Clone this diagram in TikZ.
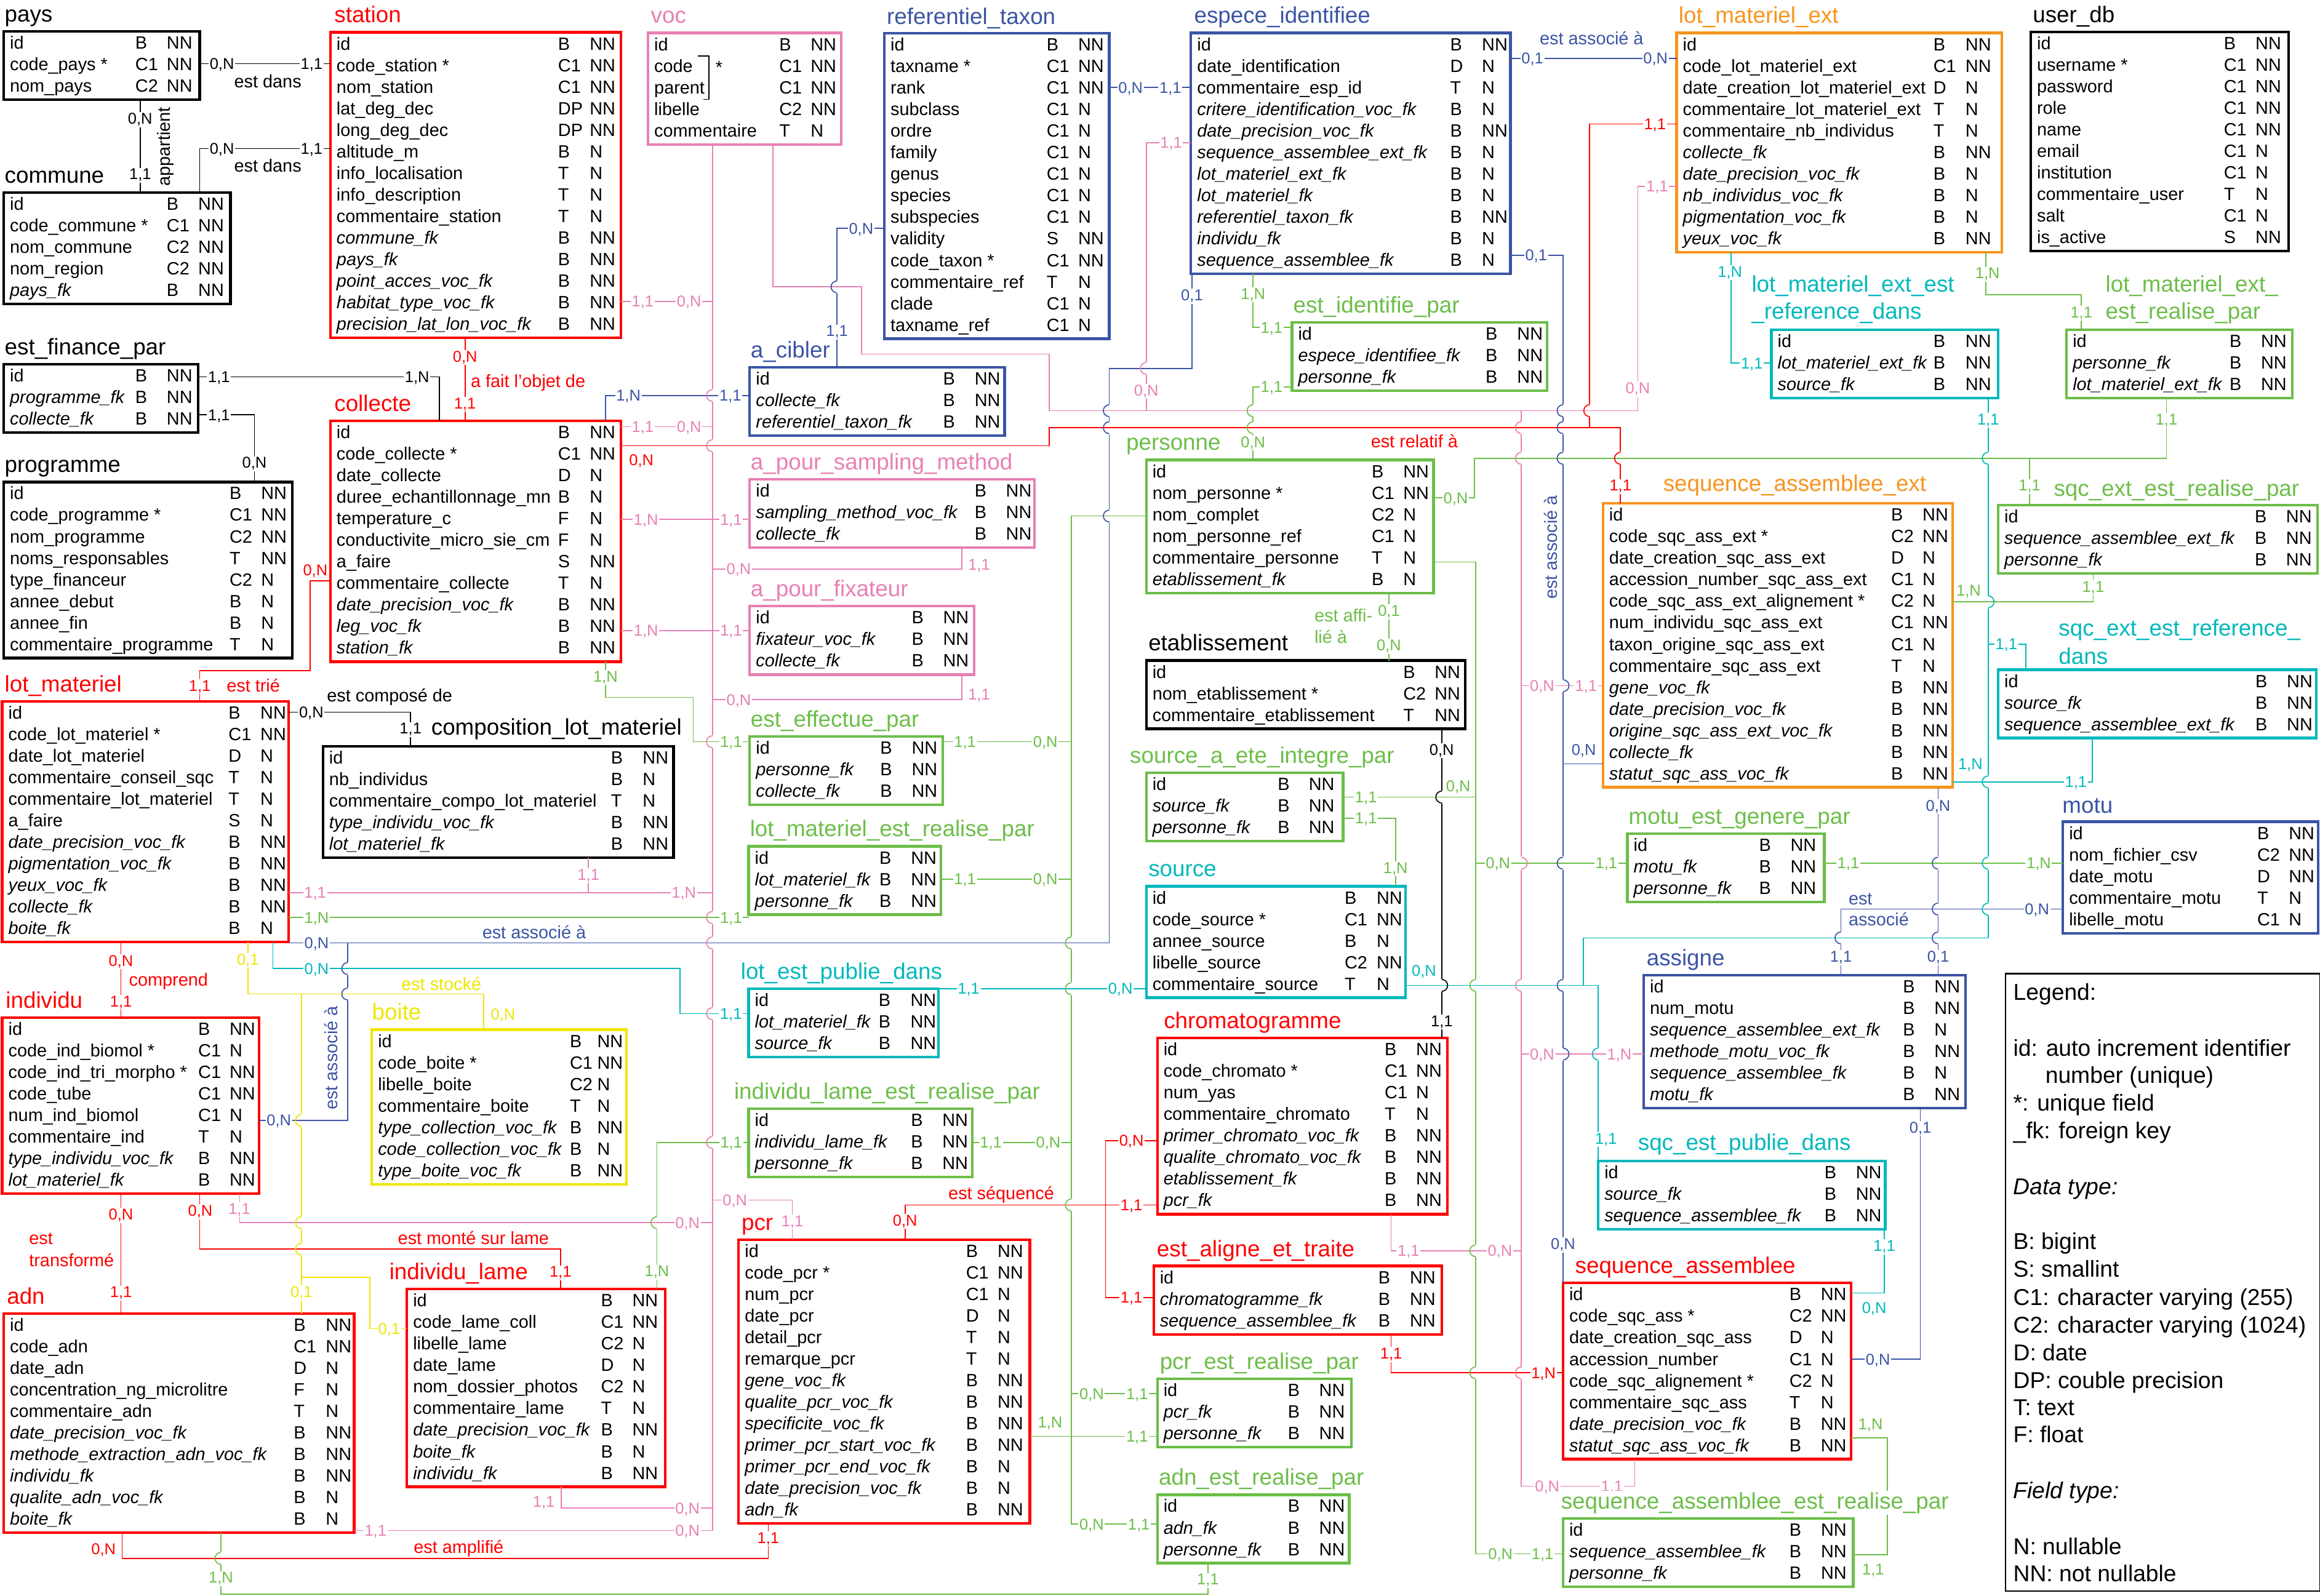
\documentclass[tikz,border=0pt]{standalone}
\usepackage{fontspec}
\setmainfont{Liberation Sans}

\definecolor{cRed}{RGB}{255,0,0}
\definecolor{cPink}{RGB}{232,128,180}
\definecolor{cBlue}{RGB}{59,84,164}
\definecolor{cGreen}{RGB}{108,190,72}
\definecolor{cOrange}{RGB}{247,148,30}
\definecolor{cCyan}{RGB}{0,184,188}
\definecolor{cYellow}{RGB}{238,230,0}

\newcommand\fieldfont{\fontsize{12}{14}\selectfont}
\newcommand\titlefont{\fontsize{15.3}{18}\selectfont}
\newcommand\cardfont{\fontsize{10.6}{12}\selectfont}
\newcommand\relfont{\fontsize{12}{14}\selectfont}
\newcommand\legfont{\fontsize{15.5}{18.8}\selectfont}
\newcommand\ik[1]{\textit{#1}}

\tikzset{
  conn/.style={line width=0.7pt},
  fld/.style={anchor=base west, inner sep=0pt, font=\fieldfont},
  ttl/.style={anchor=base west, inner sep=0pt, font=\titlefont},
  crd/.style={anchor=base, fill=white, inner sep=0.7pt, font=\cardfont},
  crdfree/.style={anchor=base, inner sep=0pt, font=\cardfont},
  rel/.style={anchor=base, inner sep=0pt, font=\relfont},
  relw/.style={anchor=base west, inner sep=0pt, font=\relfont},
  lg/.style={anchor=base west, inner sep=0pt, font=\legfont},
}

% table: #1 name, #2 colour, #3 left, #4 top, #5 right, #6 number of rows,
%        #7 type column offset, #8 null column offset, #9 rows
\newcommand\tbl[9]{%
  \pgfmathsetmacro\tblh{14.57*#6+2.5}%
  \pgfmathsetmacro\tblw{#5-#3}%
  \node[draw=#2, line width=1.8pt, outer sep=0pt, inner sep=0pt, anchor=north west,
        minimum width=\tblw pt, minimum height=\tblh pt] (#1) at (#3,#4) {};
  \foreach \fa/\fb/\fc [count=\ri] in {#9} {%
    \pgfmathsetmacro\ry{#4+11.9+14.57*(\ri-1)}%
    \node[fld] at (#3+4,\ry) {\fa};
    \node[fld] at (#5-#7,\ry) {\fb};
    \node[fld] at (#5-#8,\ry) {\fc};
  }}
% cardinality on a line (white background) and beside a line
\newcommand\cdn[4]{\node[crd,text=#1] at (#2,{#3+3.7}) {#4};}
\newcommand\cdf[4]{\node[crdfree,text=#1] at (#2,{#3+3.7}) {#4};}
% line hop of a vertical connector over a horizontal one
\newcommand\hopL[4]{%
  \fill[white] ({#1-1.1},{#2-4.4}) rectangle ({#1+1.1},{#2+4.4});
  \draw[conn,#4] ({#1-1.4},#2) -- ({#1+1.4},#2);
  \draw[conn,#3] (#1,{#2-4}) arc[start angle=-90,end angle=-270,radius=4];}
\newcommand\hopR[4]{%
  \fill[white] ({#1-1.1},{#2-4.4}) rectangle ({#1+1.1},{#2+4.4});
  \draw[conn,#4] ({#1-1.4},#2) -- ({#1+1.4},#2);
  \draw[conn,#3] (#1,{#2-4}) arc[start angle=-90,end angle=90,radius=4];}

\begin{document}
\begin{tikzpicture}[x=1pt,y=-1pt]
\useasboundingbox (0,0) rectangle (1568,1078.5);

%================ tables ================
\tbl{pays}{black}{2.5}{21.1}{135}{3}{43.7}{22.5}{id/B/NN, code\_pays */C1/NN, nom\_pays/C2/NN}
\tbl{commune}{black}{2.5}{130.1}{155.8}{5}{43.3}{22}{id/B/NN, code\_commune */C1/NN, nom\_commune/C2/NN, nom\_region/C2/NN, \ik{pays\_fk}/B/NN}
\tbl{finance}{black}{2.5}{246.2}{133.8}{3}{42.5}{21.3}{id/B/NN, \ik{programme\_fk}/B/NN, \ik{collecte\_fk}/B/NN}
\tbl{programme}{black}{2.5}{325.8}{197.5}{8}{42.5}{21.2}{id/B/NN, code\_programme */C1/NN, nom\_programme/C2/NN, noms\_responsables/T/NN, type\_financeur/C2/N, annee\_debut/B/N, annee\_fin/B/N, commentaire\_programme/T/N}
\tbl{lotmat}{cRed}{1.5}{474.1}{195}{11}{40.7}{19.2}{id/B/NN, code\_lot\_materiel */C1/NN, date\_lot\_materiel/D/N, commentaire\_conseil\_sqc/T/N, commentaire\_lot\_materiel/T/N, a\_faire/S/N, \ik{date\_precision\_voc\_fk}/B/NN, \ik{pigmentation\_voc\_fk}/B/NN, \ik{yeux\_voc\_fk}/B/NN, \ik{collecte\_fk}/B/NN, \ik{boite\_fk}/B/N}
\tbl{individu}{cRed}{1.5}{687.9}{175}{8}{41.2}{20}{id/B/NN, code\_ind\_biomol */C1/N, code\_ind\_tri\_morpho */C1/NN, code\_tube/C1/NN, num\_ind\_biomol/C1/N, commentaire\_ind/T/N, \ik{type\_individu\_voc\_fk}/B/NN, \ik{lot\_materiel\_fk}/B/NN}
\tbl{adn}{cRed}{2.5}{887.9}{239.3}{10}{41}{19.3}{id/B/NN, code\_adn/C1/NN, date\_adn/D/N, concentration\_ng\_microlitre/F/N, commentaire\_adn/T/N, \ik{date\_precision\_voc\_fk}/B/NN, \ik{methode\_extraction\_adn\_voc\_fk}/B/NN, \ik{individu\_fk}/B/NN, \ik{qualite\_adn\_voc\_fk}/B/N, \ik{boite\_fk}/B/N}
\tbl{station}{cRed}{223.3}{21.8}{419.7}{14}{42.7}{21.3}{id/B/NN, code\_station */C1/NN, nom\_station/C1/NN, lat\_deg\_dec/DP/NN, long\_deg\_dec/DP/NN, altitude\_m/B/N, info\_localisation/T/N, info\_description/T/N, commentaire\_station/T/N, \ik{commune\_fk}/B/NN, \ik{pays\_fk}/B/NN, \ik{point\_acces\_voc\_fk}/B/NN, \ik{habitat\_type\_voc\_fk}/B/NN, \ik{precision\_lat\_lon\_voc\_fk}/B/NN}
\tbl{collecte}{cRed}{223.3}{284.5}{419.7}{11}{42.7}{21.3}{id/B/NN, code\_collecte */C1/NN, date\_collecte/D/N, duree\_echantillonnage\_mn/B/N, temperature\_c/F/N, conductivite\_micro\_sie\_cm/F/N, a\_faire/S/NN, commentaire\_collecte/T/N, \ik{date\_precision\_voc\_fk}/B/NN, \ik{leg\_voc\_fk}/B/NN, \ik{station\_fk}/B/NN}
\tbl{compo}{black}{218.3}{504.4}{455.2}{5}{42.5}{21}{id/B/NN, nb\_individus/B/N, commentaire\_compo\_lot\_materiel/T/N, \ik{type\_individu\_voc\_fk}/B/NN, \ik{lot\_materiel\_fk}/B/NN}
\tbl{boite}{cYellow}{251.3}{696}{423.5}{7}{38.5}{20}{id/B/NN, code\_boite */C1/NN, libelle\_boite/C2/N, commentaire\_boite/T/N, \ik{type\_collection\_voc\_fk}/B/NN, \ik{code\_collection\_voc\_fk}/B/N, \ik{type\_boite\_voc\_fk}/B/NN}
\tbl{lame}{cRed}{275}{871.4}{449.7}{9}{43.7}{22.5}{id/B/NN, code\_lame\_coll/C1/NN, libelle\_lame/C2/N, date\_lame/D/N, nom\_dossier\_photos/C2/N, commentaire\_lame/T/N, \ik{date\_precision\_voc\_fk}/B/NN, \ik{boite\_fk}/B/N, \ik{individu\_fk}/B/NN}
\tbl{voc}{cPink}{438}{22.3}{568.5}{5}{42}{20.8}{id/B/NN, code/C1/NN, parent/C1/NN, libelle/C2/NN, commentaire/T/N}
\tbl{taxon}{cBlue}{597.7}{22.5}{749.7}{14}{42.5}{21.2}{id/B/NN, taxname */C1/NN, rank/C1/NN, subclass/C1/N, ordre/C1/N, family/C1/N, genus/C1/N, species/C1/N, subspecies/C1/N, validity/S/NN, code\_taxon */C1/NN, commentaire\_ref/T/N, clade/C1/N, taxname\_ref/C1/N}
\tbl{cibler}{cBlue}{506.7}{248.3}{679}{3}{41.8}{20.5}{id/B/NN, \ik{collecte\_fk}/B/NN, \ik{referentiel\_taxon\_fk}/B/NN}
\tbl{sampling}{cPink}{506.7}{324}{699.2}{3}{40.7}{19.5}{id/B/NN, \ik{sampling\_method\_voc\_fk}/B/NN, \ik{collecte\_fk}/B/NN}
\tbl{fixateur}{cPink}{506.7}{409.8}{658.5}{3}{42.5}{21.3}{id/B/NN, \ik{fixateur\_voc\_fk}/B/NN, \ik{collecte\_fk}/B/NN}
\tbl{effectue}{cGreen}{506.7}{497.9}{637.2}{3}{42.5}{21.2}{id/B/NN, \ik{personne\_fk}/B/NN, \ik{collecte\_fk}/B/NN}
\tbl{lotrealise}{cGreen}{506}{572.1}{636}{3}{41.8}{20.5}{id/B/NN, \ik{lot\_materiel\_fk}/B/NN, \ik{personne\_fk}/B/NN}
\tbl{lotpublie}{cCyan}{506}{668.4}{634.2}{3}{40.5}{19}{id/B/NN, \ik{lot\_materiel\_fk}/B/NN, \ik{source\_fk}/B/NN}
\tbl{lamerealise}{cGreen}{506}{749.4}{657.2}{3}{41.7}{20.5}{id/B/NN, \ik{individu\_lame\_fk}/B/NN, \ik{personne\_fk}/B/NN}
\tbl{pcr}{cRed}{499.2}{838}{696}{13}{43.3}{22}{id/B/NN, code\_pcr */C1/NN, num\_pcr/C1/N, date\_pcr/D/N, detail\_pcr/T/N, remarque\_pcr/T/N, \ik{gene\_voc\_fk}/B/NN, \ik{qualite\_pcr\_voc\_fk}/B/NN, \ik{specificite\_voc\_fk}/B/NN, \ik{primer\_pcr\_start\_voc\_fk}/B/NN, \ik{primer\_pcr\_end\_voc\_fk}/B/N, \ik{date\_precision\_voc\_fk}/B/N, \ik{adn\_fk}/B/NN}
\tbl{espece}{cBlue}{804.9}{22.3}{1020.9}{11}{41}{19.5}{id/B/NN, date\_identification/D/N, commentaire\_esp\_id/T/N, \ik{critere\_identification\_voc\_fk}/B/N, \ik{date\_precision\_voc\_fk}/B/NN, \ik{sequence\_assemblee\_ext\_fk}/B/N, \ik{lot\_materiel\_ext\_fk}/B/N, \ik{lot\_materiel\_fk}/B/N, \ik{referentiel\_taxon\_fk}/B/NN, \ik{individu\_fk}/B/N, \ik{sequence\_assemblee\_fk}/B/N}
\tbl{identifie}{cGreen}{873.2}{218}{1045.7}{3}{41.8}{20.5}{id/B/NN, \ik{espece\_identifiee\_fk}/B/NN, \ik{personne\_fk}/B/NN}
\tbl{personne}{cGreen}{774.7}{310.9}{968.9}{6}{42}{20.7}{id/B/NN, nom\_personne */C1/NN, nom\_complet/C2/N, nom\_personne\_ref/C1/N, commentaire\_personne/T/N, \ik{etablissement\_fk}/B/N}
\tbl{etab}{black}{774.7}{446.5}{990.2}{3}{42}{20.8}{id/B/NN, nom\_etablissement */C2/NN, commentaire\_etablissement/T/NN}
\tbl{integre}{cGreen}{774.7}{522.3}{907.7}{3}{44.3}{23.3}{id/B/NN, \ik{source\_fk}/B/NN, \ik{personne\_fk}/B/NN}
\tbl{source}{cCyan}{774.7}{599.1}{949.9}{5}{41.3}{19.7}{id/B/NN, code\_source */C1/NN, annee\_source/B/N, libelle\_source/C2/NN, commentaire\_source/T/N}
\tbl{chromato}{cRed}{782.2}{701.7}{978.2}{8}{42.5}{21.3}{id/B/NN, code\_chromato */C1/NN, num\_yas/C1/N, commentaire\_chromato/T/N, \ik{primer\_chromato\_voc\_fk}/B/NN, \ik{qualite\_chromato\_voc\_fk}/B/NN, \ik{etablissement\_fk}/B/NN, \ik{pcr\_fk}/B/NN}
\tbl{aligne}{cRed}{779.7}{855.8}{974.4}{3}{43}{21.7}{id/B/NN, \ik{chromatogramme\_fk}/B/NN, \ik{sequence\_assemblee\_fk}/B/NN}
\tbl{pcrrealise}{cGreen}{782.2}{932.1}{913.2}{3}{43}{21.8}{id/B/NN, \ik{pcr\_fk}/B/NN, \ik{personne\_fk}/B/NN}
\tbl{adnrealise}{cGreen}{782.2}{1010.4}{911.9}{3}{41.7}{20.5}{id/B/NN, \ik{adn\_fk}/B/NN, \ik{personne\_fk}/B/NN}
\tbl{lotext}{cOrange}{1133.2}{22.3}{1352.9}{10}{46.4}{24.7}{id/B/NN, code\_lot\_materiel\_ext/C1/NN, date\_creation\_lot\_materiel\_ext/D/N, commentaire\_lot\_materiel\_ext/T/N, commentaire\_nb\_individus/T/N, \ik{collecte\_fk}/B/NN, \ik{date\_precision\_voc\_fk}/B/N, \ik{nb\_individus\_voc\_fk}/B/N, \ik{pigmentation\_voc\_fk}/B/N, \ik{yeux\_voc\_fk}/B/NN}
\tbl{userdb}{black}{1372.5}{21.6}{1546.7}{10}{43.9}{22.5}{id/B/NN, username */C1/NN, password/C1/NN, role/C1/NN, name/C1/NN, email/C1/N, institution/C1/N, commentaire\_user/T/N, salt/C1/N, is\_active/S/NN}
\tbl{lotextref}{cCyan}{1197.2}{223}{1350.5}{3}{44}{22.3}{id/B/NN, \ik{lot\_materiel\_ext\_fk}/B/NN, \ik{source\_fk}/B/NN}
\tbl{lotextreal}{cGreen}{1396.7}{223}{1549.2}{3}{42.5}{21.3}{id/B/NN, \ik{personne\_fk}/B/NN, \ik{lot\_materiel\_ext\_fk}/B/NN}
\tbl{sqcext}{cOrange}{1083.4}{340.3}{1319.7}{13}{41.8}{20.5}{id/B/NN, code\_sqc\_ass\_ext */C2/NN, date\_creation\_sqc\_ass\_ext/D/N, accession\_number\_sqc\_ass\_ext/C1/N, code\_sqc\_ass\_ext\_alignement */C2/N, num\_individu\_sqc\_ass\_ext/C1/NN, taxon\_origine\_sqc\_ass\_ext/C1/N, commentaire\_sqc\_ass\_ext/T/N, \ik{gene\_voc\_fk}/B/NN, \ik{date\_precision\_voc\_fk}/B/NN, \ik{origine\_sqc\_ass\_ext\_voc\_fk}/B/NN, \ik{collecte\_fk}/B/NN, \ik{statut\_sqc\_ass\_voc\_fk}/B/NN}
\tbl{sqcextreal}{cGreen}{1350.5}{341.4}{1566.2}{3}{42.5}{21.3}{id/B/NN, \ik{sequence\_assemblee\_ext\_fk}/B/NN, \ik{personne\_fk}/B/NN}
\tbl{sqcextref}{cCyan}{1350.5}{452.7}{1565.5}{3}{41.3}{20.1}{id/B/NN, \ik{source\_fk}/B/NN, \ik{sequence\_assemblee\_ext\_fk}/B/NN}
\tbl{motugen}{cGreen}{1099.9}{563.6}{1233}{3}{44.3}{23.1}{id/B/NN, \ik{motu\_fk}/B/NN, \ik{personne\_fk}/B/NN}
\tbl{motu}{cBlue}{1394.2}{555.5}{1566.7}{5}{41.3}{20}{id/B/NN, nom\_fichier\_csv/C2/NN, date\_motu/D/NN, commentaire\_motu/T/N, libelle\_motu/C1/N}
\tbl{assigne}{cBlue}{1110.9}{659.2}{1328.5}{6}{42.6}{21.3}{id/B/NN, num\_motu/B/NN, \ik{sequence\_assemblee\_ext\_fk}/B/N, \ik{methode\_motu\_voc\_fk}/B/NN, \ik{sequence\_assemblee\_fk}/B/N, \ik{motu\_fk}/B/NN}
\tbl{sqcpub}{cCyan}{1080.2}{784.8}{1274.2}{3}{41.3}{20.1}{id/B/NN, \ik{source\_fk}/B/NN, \ik{sequence\_assemblee\_fk}/B/NN}
\tbl{sqc}{cRed}{1056.4}{867.3}{1251}{8}{41.8}{20.6}{id/B/NN, code\_sqc\_ass */C2/NN, date\_creation\_sqc\_ass/D/N, accession\_number/C1/N, code\_sqc\_alignement */C2/N, commentaire\_sqc\_ass/T/N, \ik{date\_precision\_voc\_fk}/B/NN, \ik{statut\_sqc\_ass\_voc\_fk}/B/NN}
\tbl{sqcreal}{cGreen}{1056.4}{1026.4}{1252.5}{3}{43.3}{22}{id/B/NN, \ik{sequence\_assemblee\_fk}/B/NN, \ik{personne\_fk}/B/NN}

% composite unique key bracket in voc
\draw[line width=0.7pt] (471.7,37.9) -- (479,37.9) -- (479,67.2) -- (475.5,67.2);
\node[fld] (voc-star) at (483.5,49.5) {*};

%================ titles ================
\node[ttl] (pays-t) at (3,14.6) {pays};
\node[ttl] (commune-t) at (3,123.6) {commune};
\node[ttl] (finance-t) at (3,239.7) {est\_finance\_par};
\node[ttl] (programme-t) at (3,319.3) {programme};
\node[ttl,text=cRed] (lotmat-t) at (3,467.6) {lot\_materiel};
\node[ttl,text=cRed] (individu-t) at (3.75,681.4) {individu};
\node[ttl,text=cRed] (adn-t) at (4.5,881.4) {adn};
\node[ttl,text=cRed] (station-t) at (225.8,15.3) {station};
\node[ttl,text=cRed] (collecte-t) at (225.8,278) {collecte};
\node[ttl] (compo-t) at (291.3,497) {composition\_lot\_materiel};
\node[ttl,text=cYellow] (boite-t) at (251.3,689.5) {boite};
\node[ttl,text=cRed] (lame-t) at (263,864.9) {individu\_lame};
\node[ttl,text=cPink] (voc-t) at (439.7,15.8) {voc};
\node[ttl,text=cBlue] (taxon-t) at (599.2,16.3) {referentiel\_taxon};
\node[ttl,text=cBlue] (cibler-t) at (507.2,241.8) {a\_cibler};
\node[ttl,text=cPink] (sampling-t) at (507.2,317.5) {a\_pour\_sampling\_method};
\node[ttl,text=cPink] (fixateur-t) at (507.2,403.3) {a\_pour\_fixateur};
\node[ttl,text=cGreen] (effectue-t) at (507.2,491.4) {est\_effectue\_par};
\node[ttl,text=cGreen] (lotrealise-t) at (506.7,565.6) {lot\_materiel\_est\_realise\_par};
\node[ttl,text=cCyan] (lotpublie-t) at (500.5,661.9) {lot\_est\_publie\_dans};
\node[ttl,text=cGreen] (lamerealise-t) at (496,742.9) {individu\_lame\_est\_realise\_par};
\node[ttl,text=cRed] (pcr-t) at (501,831.5) {pcr};
\node[ttl,text=cBlue] (espece-t) at (806.9,15.8) {espece\_identifiee};
\node[ttl,text=cGreen] (identifie-t) at (873.9,211.5) {est\_identifie\_par};
\node[ttl,text=cGreen] (personne-t) at (761,304.4) {personne};
\node[ttl] (etab-t) at (776,440) {etablissement};
\node[ttl,text=cGreen] (integre-t) at (763.5,515.8) {source\_a\_ete\_integre\_par};
\node[ttl,text=cCyan] (source-t) at (776,592.6) {source};
\node[ttl,text=cRed] (chromato-t) at (786.4,695.2) {chromatogramme};
\node[ttl,text=cRed] (aligne-t) at (781.7,849.3) {est\_aligne\_et\_traite};
\node[ttl,text=cGreen] (pcrrealise-t) at (783.7,925.6) {pcr\_est\_realise\_par};
\node[ttl,text=cGreen] (adnrealise-t) at (783,1003.9) {adn\_est\_realise\_par};
\node[ttl,text=cOrange] (lotext-t) at (1134.4,15.8) {lot\_materiel\_ext};
\node[ttl] (userdb-t) at (1373.7,15.1) {user\_db};
\node[ttl,text=cCyan] (lotextref-t1) at (1183.7,197.3) {lot\_materiel\_ext\_est};
\node[ttl,text=cCyan] (lotextref-t2) at (1183.7,215.7) {\_reference\_dans};
\node[ttl,text=cGreen] (lotextreal-t1) at (1422.9,197.3) {lot\_materiel\_ext\_};
\node[ttl,text=cGreen] (lotextreal-t2) at (1422.9,215.7) {est\_realise\_par};
\node[ttl,text=cOrange] (sqcext-t) at (1123.9,332) {sequence\_assemblee\_ext};
\node[ttl,text=cGreen] (sqcextreal-t) at (1387.9,335.5) {sqc\_ext\_est\_realise\_par};
\node[ttl,text=cCyan] (sqcextref-t1) at (1391.2,429.8) {sqc\_ext\_est\_reference\_};
\node[ttl,text=cCyan] (sqcextref-t2) at (1391.2,448.8) {dans};
\node[ttl,text=cGreen] (motugen-t) at (1100.6,557.1) {motu\_est\_genere\_par};
\node[ttl,text=cBlue] (motu-t) at (1393.7,549.5) {motu};
\node[ttl,text=cBlue] (assigne-t) at (1112.7,652.7) {assigne};
\node[ttl,text=cCyan] (sqcpub-t) at (1106.9,777.5) {sqc\_est\_publie\_dans};
\node[ttl,text=cRed] (sqc-t) at (1064.4,860.8) {sequence\_assemblee};

%================ connectors ================
% black
\draw[conn] (pays.east |- 0,43.1) -- (station.west |- 0,43.1);
\draw[conn] (pays.south -| 94.75,0) -- (commune.north -| 94.75,0);
\draw[conn] (commune.north -| 135,0) -- (135,100.5) -- (station.west |- 0,100.5);
\draw[conn] (finance.east |- 0,254.7) -- (297,254.7) -- (collecte.north -| 297,0);
\draw[conn] (finance.east |- 0,280.4) -- (172,280.4) -- (programme.north -| 172,0);
\draw[conn] (lotmat.east |- 0,481.4) -- (277.5,481.4) -- (compo.north -| 277.5,0);
\draw[conn] (etab.south -| 974.4,0) -- (chromato.north -| 974.4,0);
% red
\draw[conn,cRed] (station.south -| 314.3,0) -- (collecte.north -| 314.3,0);
\draw[conn,cRed] (collecte.west |- 0,392.6) -- (209.5,392.6) -- (209.5,453.4) -- (135,453.4) -- (lotmat.north -| 135,0);
\draw[conn,cRed] (lotmat.south -| 81.75,0) -- (individu.north -| 81.75,0);
\draw[conn,cRed] (individu.south -| 81.75,0) -- (adn.north -| 81.75,0);
\draw[conn,cRed] (individu.south -| 135,0) -- (135,844.4) -- (378.8,844.4) -- (lame.north -| 378.8,0);
\draw[conn,cRed] (adn.south -| 82.5,0) -- (82.5,1053.4) -- (519.2,1053.4) -- (pcr.south -| 519.2,0);
\draw[conn,cRed] (pcr.north -| 611.7,0) -- (611.7,814.6) -- (chromato.west |- 0,814.6);
\draw[conn,cRed] (chromato.west |- 0,771.1) -- (747.2,771.1) -- (747.2,877.1) -- (aligne.west |- 0,877.1);
\draw[conn,cRed] (aligne.south -| 940.2,0) -- (940.2,928) -- (sqc.west |- 0,928);
\draw[conn,cRed] (collecte.east |- 0,301.3) -- (709,301.3) -- (709,289.1) -- (1095.2,289.1) -- (sqcext.north -| 1095.2,0);
\draw[conn,cRed] (1074.4,289.1) -- (1074.4,83.8) -- (lotext.west |- 0,83.8);
% pink
\draw[conn,cPink] (voc.south -| 481.5,0) -- (481.5,1034.6);
\draw[conn,cPink] (station.east |- 0,203.8) -- (481.5,203.8);
\draw[conn,cPink] (collecte.east |- 0,288.4) -- (481.5,288.4);
\draw[conn,cPink] (collecte.east |- 0,351.1) -- (sampling.west |- 0,351.1);
\draw[conn,cPink] (sampling.south -| 650.2,0) -- (650.2,384.6) -- (481.5,384.6);
\draw[conn,cPink] (collecte.east |- 0,426.3) -- (fixateur.west |- 0,426.3);
\draw[conn,cPink] (fixateur.south -| 650.2,0) -- (650.2,473) -- (481.5,473);
\draw[conn,cPink] (lotmat.east |- 0,603.5) -- (481.5,603.5);
\draw[conn,cPink] (compo.south -| 397.7,0) -- (397.7,603.5);
\draw[conn,cPink] (individu.south -| 162,0) -- (162,826.5) -- (481.5,826.5);
\draw[conn,cPink] (pcr.north -| 535.5,0) -- (535.5,811.2) -- (481.5,811.2);
\draw[conn,cPink] (lame.south -| 379.3,0) -- (379.3,1019.5) -- (481.5,1019.5);
\draw[conn,cPink] (adn.east |- 0,1034.6) -- (481.5,1034.6);
\draw[conn,cPink] (voc.south -| 522.5,0) -- (522.5,193.9) -- (582.2,193.9) -- (582.2,239.3) -- (709,239.3) -- (709,277.6) -- (1106.9,277.6) -- (1106.9,126) -- (lotext.west |- 0,126);
\draw[conn,cPink] (espece.west |- 0,96.4) -- (774.7,96.4) -- (774.7,277.6);
\draw[conn,cPink] (1028.2,277.6) -- (1028.2,1004.6) -- (1104.9,1004.6) -- (sqc.south -| 1104.9,0);
\draw[conn,cPink] (1028.2,463.5) -- (sqcext.west |- 0,463.5);
\draw[conn,cPink] (1028.2,712.5) -- (assigne.west |- 0,712.5);
\draw[conn,cPink] (chromato.south -| 940.2,0) -- (940.2,845.5) -- (1028.2,845.5);
% cyan
\draw[conn,cCyan] (lotmat.south -| 184.5,0) -- (184.5,654.7) -- (459.7,654.7) -- (459.7,685.2) -- (lotpublie.west |- 0,685.2);
\draw[conn,cCyan] (lotpublie.east |- 0,668.4) -- (source.west |- 0,668.4);
\draw[conn,cCyan] (source.east |- 0,666.1) -- (1080.2,666.1) -- (sqcpub.north -| 1080.2,0);
\draw[conn,cCyan] (1070.2,666.1) -- (1070.2,634) -- (1343.7,634) -- (lotextref.south -| 1343.7,0);
\draw[conn,cCyan] (1343.7,435.5) -- (1369.2,435.5) -- (sqcextref.north -| 1369.2,0);
\draw[conn,cCyan] (lotext.south -| 1169.9,0) -- (1169.9,245.5) -- (lotextref.west |- 0,245.5);
\draw[conn,cCyan] (sqcext.east |- 0,528.5) -- (1414.2,528.5) -- (sqcextref.south -| 1414.2,0);
\draw[conn,cCyan] (sqcpub.south -| 1273.5,0) -- (1273.5,874.1) -- (sqc.east |- 0,874.1);
% blue
\draw[conn,cBlue] (taxon.east |- 0,59.2) -- (espece.west |- 0,59.2);
\draw[conn,cBlue] (taxon.west |- 0,154.4) -- (565.7,154.4) -- (cibler.north -| 565.7,0);
\draw[conn,cBlue] (collecte.north -| 409.2,0) -- (409.2,267.3) -- (cibler.west |- 0,267.3);
\draw[conn,cBlue] (espece.east |- 0,39.5) -- (lotext.west |- 0,39.5);
\draw[conn,cBlue] (espece.south -| 805.6,0) -- (805.6,249) -- (749.7,249) -- (749.7,637.4) -- (lotmat.east |- 0,637.4);
\draw[conn,cBlue] (individu.east |- 0,757.4) -- (235,757.4) -- (235,637.4);
\draw[conn,cBlue] (espece.east |- 0,172.6) -- (1056.4,172.6) -- (sqc.north -| 1056.4,0);
\draw[conn,cBlue] (1056.4,516.3) -- (sqcext.west |- 0,516.3);
\draw[conn,cBlue] (motu.west |- 0,614.5) -- (1244.2,614.5) -- (assigne.north -| 1244.2,0);
\draw[conn,cBlue] (sqcext.south -| 1309.9,0) -- (assigne.north -| 1309.9,0);
\draw[conn,cBlue] (assigne.south -| 1297.9,0) -- (1297.9,918.8) -- (sqc.east |- 0,918.8);
% green
\draw[conn,cGreen] (espece.south -| 846.9,0) -- (846.9,221.4) -- (identifie.west |- 0,221.4);
\draw[conn,cGreen] (identifie.west |- 0,261.6) -- (846.9,261.6) -- (personne.north -| 846.9,0);
\draw[conn,cGreen] (personne.west |- 0,348.8) -- (724,348.8) -- (724,1030.3) -- (adnrealise.west |- 0,1030.3);
\draw[conn,cGreen] (effectue.east |- 0,501.4) -- (724,501.4);
\draw[conn,cGreen] (lotrealise.east |- 0,594.3) -- (724,594.3);
\draw[conn,cGreen] (lamerealise.east |- 0,772.3) -- (724,772.3);
\draw[conn,cGreen] (724,942.1) -- (pcrrealise.west |- 0,942.1);
\draw[conn,cGreen] (collecte.south -| 409.2,0) -- (409.2,471.5) -- (468.5,471.5) -- (468.5,501.4) -- (effectue.west |- 0,501.4);
\draw[conn,cGreen] (lotmat.east |- 0,620.2) -- (lotrealise.west |- 0,620.2);
\draw[conn,cGreen] (lame.north -| 444,0) -- (444,772.3) -- (lamerealise.west |- 0,772.3);
\draw[conn,cGreen] (pcr.east |- 0,971) -- (pcrrealise.west |- 0,971);
\draw[conn,cGreen] (adn.south -| 149.3,0) -- (149.3,1077.5) -- (816.4,1077.5) -- (adnrealise.south -| 816.4,0);
\draw[conn,cGreen] (personne.east |- 0,336.6) -- (996.4,336.6) -- (996.4,309.8) -- (1464.2,309.8) -- (lotextreal.south -| 1464.2,0);
\draw[conn,cGreen] (1371.7,309.8) -- (sqcextreal.north -| 1371.7,0);
\draw[conn,cGreen] (personne.east |- 0,380) -- (997.4,380) -- (997.4,1050.4) -- (sqcreal.west |- 0,1050.4);
\draw[conn,cGreen] (integre.east |- 0,538.8) -- (997.4,538.8);
\draw[conn,cGreen] (integre.east |- 0,553.2) -- (943.2,553.2) -- (source.north -| 943.2,0);
\draw[conn,cGreen] (997.4,583.5) -- (motugen.west |- 0,583.5);
\draw[conn,cGreen] (motugen.east |- 0,583.5) -- (motu.west |- 0,583.5);
\draw[conn,cGreen] (lotext.south -| 1342.2,0) -- (1342.2,199.2) -- (1406.7,199.2) -- (lotextreal.north -| 1406.7,0);
\draw[conn,cGreen] (sqcext.east |- 0,406.8) -- (1414.7,406.8) -- (sqcextreal.south -| 1414.7,0);
\draw[conn,cGreen] (sqc.east |- 0,971.9) -- (1275.5,971.9) -- (1275.5,1050.9) -- (sqcreal.east |- 0,1050.9);
\draw[conn,cGreen] (personne.south -| 938.7,0) -- (etab.north -| 938.7,0);
% yellow
\draw[conn,cYellow] (lotmat.south -| 167.5,0) -- (167.5,671.9) -- (327,671.9) -- (boite.north -| 327,0);
\draw[conn,cYellow] (203.75,671.9) -- (adn.north -| 203.75,0);
\draw[conn,cYellow] (203.75,863.4) -- (250,863.4) -- (250,898.2) -- (lame.west |- 0,898.2);

%================ line hops ================
\hopL{481.5}{267.3}{cPink}{cBlue}
\hopL{481.5}{301.3}{cPink}{cRed}
\hopL{481.5}{501.4}{cPink}{cGreen}
\hopL{481.5}{620.2}{cPink}{cGreen}
\hopL{481.5}{637.4}{cPink}{cBlue}
\hopL{481.5}{685.2}{cPink}{cCyan}
\hopL{481.5}{772.3}{cPink}{cGreen}
\hopL{749.7}{277.6}{cBlue}{cPink}
\hopL{749.7}{289.1}{cBlue}{cRed}
\hopL{749.7}{348.8}{cBlue}{cGreen}
\hopL{724}{637.4}{cGreen}{cBlue}
\hopL{724}{668.4}{cGreen}{cCyan}
\hopL{724}{814.6}{cGreen}{cRed}
\hopL{203.75}{757.4}{cYellow}{cBlue}
\hopL{203.75}{826.5}{cYellow}{cPink}
\hopL{203.75}{844.4}{cYellow}{cRed}
\hopL{235}{654.7}{cBlue}{cCyan}
\hopL{235}{671.9}{cBlue}{cYellow}
\hopL{444}{826.5}{cGreen}{cPink}
\hopL{846.9}{277.6}{cGreen}{cPink}
\hopL{846.9}{289.1}{cGreen}{cRed}
\hopL{1056.4}{277.6}{cBlue}{cPink}
\hopL{1056.4}{289.1}{cBlue}{cRed}
\hopL{1056.4}{309.8}{cBlue}{cGreen}
\hopR{1056.4}{463.5}{cBlue}{cPink}
\hopL{1056.4}{583.5}{cBlue}{cGreen}
\hopL{1056.4}{666.1}{cBlue}{cCyan}
\hopR{1056.4}{712.5}{cBlue}{cPink}
\hopL{1074.4}{277.6}{cRed}{cPink}
\hopL{1028.2}{289.1}{cPink}{cRed}
\hopL{1028.2}{309.8}{cPink}{cGreen}
\hopR{1028.2}{583.5}{cPink}{cGreen}
\hopL{1028.2}{666.1}{cPink}{cCyan}
\hopL{1028.2}{928}{cPink}{cRed}
\hopL{1095.2}{309.8}{cRed}{cGreen}
\hopL{1343.7}{309.8}{cCyan}{cGreen}
\hopR{1343.7}{406.8}{cCyan}{cGreen}
\hopL{1343.7}{528.5}{cCyan}{cCyan}
\hopL{1343.7}{583.5}{cCyan}{cGreen}
\hopL{1343.7}{614.5}{cCyan}{cBlue}
\hopL{1309.9}{583.5}{cBlue}{cGreen}
\hopL{1309.9}{614.5}{cBlue}{cBlue}
\hopL{1309.9}{634}{cBlue}{cCyan}
\hopL{1244.2}{634}{cBlue}{cCyan}
\hopL{974.4}{538.8}{black}{cGreen}
\hopR{974.4}{666.1}{black}{cCyan}
\hopL{997.4}{666.1}{cGreen}{cCyan}
\hopL{997.4}{845.5}{cGreen}{cPink}
\hopL{997.4}{928}{cGreen}{cRed}
\hopL{1080.2}{712.5}{cCyan}{cPink}
\hopL{149.3}{1053.4}{cGreen}{cRed}
\hopL{565.7}{193.9}{cBlue}{cPink}
\hopL{774.7}{249}{cPink}{cBlue}

%================ cardinalities ================
% black
\cdn{black}{150}{43.1}{0,N} \cdn{black}{210.6}{43.1}{1,1}
\cdn{black}{94.75}{80.3}{0,N} \cdn{black}{94.75}{117.7}{1,1}
\cdn{black}{150}{100.5}{0,N} \cdn{black}{210.6}{100.5}{1,1}
\cdn{black}{148}{254.7}{1,1} \cdn{black}{281.9}{254.7}{1,N}
\cdn{black}{148}{280.4}{1,1} \cdn{black}{172}{312.8}{0,N}
\cdn{black}{210.4}{481.4}{0,N} \cdn{black}{277.5}{492.4}{1,1}
\cdn{black}{974.4}{506.7}{0,N} \cdn{black}{974.4}{690.2}{1,1}
% red
\cdn{cRed}{314.3}{240.9}{0,N} \cdn{cRed}{314.3}{272.6}{1,1}
\cdf{cRed}{213.1}{385.2}{0,N} \cdn{cRed}{135}{463.5}{1,1}
\cdn{cRed}{81.75}{649.4}{0,N} \cdn{cRed}{81.75}{676.9}{1,1}
\cdn{cRed}{81.75}{821}{0,N} \cdn{cRed}{81.75}{873.4}{1,1}
\cdn{cRed}{135.4}{818.5}{0,N} \cdn{cRed}{378.8}{859.7}{1,1}
\cdf{cRed}{70}{1047}{0,N} \cdn{cRed}{519.2}{1039.6}{1,1}
\cdn{cRed}{611.7}{824.9}{0,N} \cdn{cRed}{764.7}{814.6}{1,1}
\cdn{cRed}{764.7}{771.1}{0,N} \cdn{cRed}{764.7}{877.1}{1,1}
\cdn{cRed}{940.2}{914.9}{1,1} \cdn{cRed}{1043.2}{928}{1,N}
\cdf{cRed}{433.5}{310.9}{0,N} \cdn{cRed}{1095.2}{328.1}{1,1}
\cdn{cRed}{1118.5}{83.8}{1,1}
% pink
\cdn{cPink}{434.4}{203.8}{1,1} \cdn{cPink}{465.7}{203.8}{0,N}
\cdn{cPink}{434.4}{288.4}{1,1} \cdn{cPink}{465.7}{288.4}{0,N}
\cdn{cPink}{436.6}{351.1}{1,N} \cdn{cPink}{494.1}{351.1}{1,1}
\cdf{cPink}{661.7}{381.6}{1,1} \cdn{cPink}{499.3}{384.6}{0,N}
\cdn{cPink}{436.6}{426.3}{1,N} \cdn{cPink}{494.1}{426.3}{1,1}
\cdf{cPink}{661.7}{469.3}{1,1} \cdn{cPink}{499.3}{473}{0,N}
\cdn{cPink}{213}{603.5}{1,1} \cdn{cPink}{462.2}{603.5}{1,N}
\cdn{cPink}{397.7}{591.1}{1,1}
\cdn{cPink}{161.8}{816.9}{1,1} \cdn{cPink}{464.7}{826.5}{0,N}
\cdn{cPink}{535.5}{825.4}{1,1} \cdn{cPink}{496.7}{811.2}{0,N}
\cdf{cPink}{367.5}{1015}{1,1} \cdn{cPink}{464.7}{1019.5}{0,N}
\cdn{cPink}{253.8}{1034.6}{1,1} \cdn{cPink}{464.7}{1034.6}{0,N}
\cdn{cPink}{1106.9}{262.3}{0,N} \cdn{cPink}{1120}{126}{1,1}
\cdn{cPink}{791.5}{96.4}{1,1} \cdn{cPink}{774.7}{263.9}{0,N}
\cdn{cPink}{1045.7}{1004.6}{0,N} \cdn{cPink}{1089.4}{1004.6}{1,1}
\cdn{cPink}{1042.3}{463.5}{0,N} \cdn{cPink}{1071.9}{463.5}{1,1}
\cdn{cPink}{1042.3}{712.5}{0,N} \cdn{cPink}{1094.4}{712.5}{1,N}
\cdn{cPink}{951.9}{845.5}{1,1} \cdn{cPink}{1013.8}{845.5}{0,N}
% cyan
\cdn{cCyan}{214}{654.7}{0,N} \cdn{cCyan}{494}{685.2}{1,1}
\cdn{cCyan}{654.7}{668.4}{1,1} \cdn{cCyan}{757.2}{668.4}{0,N}
\cdf{cCyan}{962.4}{656.3}{0,N} \cdn{cCyan}{1085.5}{769.5}{1,1}
\cdn{cCyan}{1343.7}{283.4}{1,1}
\cdn{cCyan}{1356}{435.5}{1,1}
\cdn{cCyan}{1169.2}{183.6}{1,N} \cdn{cCyan}{1184}{245.5}{1,1}
\cdf{cCyan}{1331.7}{516.5}{1,N} \cdn{cCyan}{1403}{528.5}{1,1}
\cdn{cCyan}{1273.5}{842.1}{1,1} \cdf{cCyan}{1266.7}{884}{0,N}
% blue
\cdn{cBlue}{764.1}{59.2}{0,N} \cdn{cBlue}{791}{59.2}{1,1}
\cdn{cBlue}{582}{154.4}{0,N} \cdn{cBlue}{565.7}{223.7}{1,1}
\cdn{cBlue}{424.7}{267.3}{1,N} \cdn{cBlue}{493.6}{267.3}{1,1}
\cdn{cBlue}{1035.7}{39.5}{0,1} \cdn{cBlue}{1118.9}{39.5}{0,N}
\cdn{cBlue}{805.6}{199.6}{0,1} \cdn{cBlue}{214}{637.4}{0,N}
\cdn{cBlue}{188.5}{757.4}{0,N}
\cdn{cBlue}{1038.2}{172.6}{0,1} \cdn{cBlue}{1056.4}{840.9}{0,N}
\cdf{cBlue}{1070.4}{506.7}{0,N}
\cdn{cBlue}{1376.7}{614.5}{0,N} \cdn{cBlue}{1244.2}{646.6}{1,1}
\cdn{cBlue}{1309.9}{544.5}{0,N} \cdn{cBlue}{1309.9}{646.6}{0,1}
\cdn{cBlue}{1297.9}{762}{0,1} \cdn{cBlue}{1269.2}{918.8}{0,N}
% green
\cdn{cGreen}{846.9}{198.5}{1,N} \cdn{cGreen}{859.4}{221.4}{1,1}
\cdn{cGreen}{859.4}{261.6}{1,1} \cdn{cGreen}{846.9}{298.8}{0,N}
\cdn{cGreen}{652.2}{501.4}{1,1} \cdn{cGreen}{706.5}{501.4}{0,N}
\cdn{cGreen}{652.2}{594.3}{1,1} \cdn{cGreen}{706.5}{594.3}{0,N}
\cdn{cGreen}{669.7}{772.3}{1,1} \cdn{cGreen}{708.5}{772.3}{0,N}
\cdn{cGreen}{737.8}{942.1}{0,N} \cdn{cGreen}{768.5}{942.1}{1,1}
\cdn{cGreen}{737.8}{1030.3}{0,N} \cdn{cGreen}{769.7}{1030.3}{1,1}
\cdn{cGreen}{409.2}{457.3}{1,N} \cdn{cGreen}{494.1}{501.4}{1,1}
\cdn{cGreen}{214}{620.2}{1,N} \cdn{cGreen}{494.1}{620.2}{1,1}
\cdn{cGreen}{444}{859.3}{1,N} \cdn{cGreen}{494.2}{772.3}{1,1}
\cdf{cGreen}{709.7}{961.6}{1,N} \cdn{cGreen}{768.5}{971}{1,1}
\cdn{cGreen}{149.3}{1066.4}{1,N} \cdn{cGreen}{816.4}{1067.6}{1,1}
\cdn{cGreen}{983.8}{336.6}{0,N} \cdn{cGreen}{1464.2}{283.4}{1,1} \cdn{cGreen}{1371.7}{328.1}{1,1}
\cdn{cGreen}{1014.1}{1050.4}{0,N} \cdn{cGreen}{1042.5}{1050.4}{1,1}
\cdn{cGreen}{923.2}{538.8}{1,1} \cdf{cGreen}{985.6}{531.2}{0,N}
\cdn{cGreen}{923.2}{553.2}{1,1} \cdn{cGreen}{943.2}{586.5}{1,N}
\cdn{cGreen}{1012.4}{583.5}{0,N} \cdn{cGreen}{1085.7}{583.5}{1,1}
\cdn{cGreen}{1249.2}{583.5}{1,1} \cdn{cGreen}{1377.9}{583.5}{1,N}
\cdn{cGreen}{1343.3}{184.7}{1,N} \cdn{cGreen}{1406.7}{211.1}{1,1}
\cdf{cGreen}{1330.5}{399.3}{1,N} \cdn{cGreen}{1414.7}{396.5}{1,1}
\cdf{cGreen}{1264.2}{962.7}{1,N} \cdf{cGreen}{1266}{1060.7}{1,1}
\cdn{cGreen}{938.7}{413}{0,1} \cdn{cGreen}{938.7}{436.2}{0,N}
% yellow
\cdn{cYellow}{167.5}{648.5}{0,1} \cdf{cYellow}{340}{685.6}{0,N}
\cdn{cYellow}{203.75}{873.4}{0,1} \cdn{cYellow}{263}{898.2}{0,1}

%================ relationship names ================
\node[rel] (r-estdans1) at (181,59.4) {est dans};
\node[rel] (r-estdans2) at (181,116.3) {est dans};
\node[rel,anchor=center,rotate=90] (r-appartient) at (111.9,99.2) {appartient};
\node[relw] (r-compose) at (220.8,474.3) {est composé de};
\node[relw,text=cRed] (r-objet) at (318,261.8) {a fait l’objet de};
\node[relw,text=cRed] (r-trie) at (153,467.8) {est trié};
\node[relw,text=cRed] (r-comprend) at (87,666.5) {comprend};
\node[relw,text=cRed] (r-transf1) at (19.5,841.3) {est};
\node[relw,text=cRed] (r-transf2) at (19.5,856) {transformé};
\node[rel,text=cRed] (r-lame) at (320,841.3) {est monté sur lame};
\node[rel,text=cRed] (r-amplifie) at (310,1050.1) {est amplifié};
\node[rel,text=cRed] (r-sequence) at (676.7,810.9) {est séquencé};
\node[rel,text=cRed] (r-relatif) at (955.9,302.6) {est relatif à};
\node[rel,text=cBlue] (r-assoc1) at (1075.7,30) {est associé à};
\node[rel,text=cBlue] (r-assoc2) at (361,634.4) {est associé à};
\node[rel,text=cBlue,anchor=center,rotate=90] (r-assoc3) at (223.8,715.2) {est associé à};
\node[rel,text=cBlue,anchor=center,rotate=90] (r-assoc4) at (1048,370) {est associé à};
\node[relw,text=cBlue] (r-assoc5a) at (1249.2,611.5) {est};
\node[relw,text=cBlue] (r-assoc5b) at (1249.2,625.7) {associé};
\node[rel,text=cYellow] (r-stocke) at (298.3,669.3) {est stocké};
\node[relw,text=cGreen] (r-affilie1) at (888.2,420.3) {est affi-};
\node[relw,text=cGreen] (r-affilie2) at (888.2,434.8) {lié à};

% title laid over its own connector
\node[ttl,text=cGreen,fill=white,inner sep=1pt] (sqcreal-t) at (1053.9,1019.9) {sequence\_assemblee\_est\_realise\_par};

%================ legend ================
\node[draw, line width=1pt, outer sep=0pt, inner sep=0pt, anchor=north west,
      minimum width=212.4pt, minimum height=417.5pt] (legend) at (1355.5,658.1) {};
\node[lg] (lg1) at (1360.5,676.2) {Legend:};
\node[lg] (lg2) at (1360.5,714.1) {id: auto increment identifier};
\node[lg] (lg3) at (1382.2,732.4) {number (unique)};
\node[lg] (lg4) at (1360.5,751) {*: unique field};
\node[lg] (lg5) at (1360.5,769.7) {\_fk: foreign key};
\node[lg] (lg6) at (1360.5,807.5) {\textit{Data type:}};
\node[lg] (lg7) at (1360.5,844.6) {B: bigint};
\node[lg] (lg8) at (1360.5,863.4) {S: smallint};
\node[lg] (lg9) at (1360.5,882.4) {C1: character varying (255)};
\node[lg] (lg10) at (1360.5,900.9) {C2: character varying (1024)};
\node[lg] (lg11) at (1360.5,919.7) {D: date};
\node[lg] (lg12) at (1360.5,938.5) {DP: couble precision};
\node[lg] (lg13) at (1360.5,956.8) {T: text};
\node[lg] (lg14) at (1360.5,975.3) {F: float};
\node[lg] (lg15) at (1360.5,1013.1) {\textit{Field type:}};
\node[lg] (lg16) at (1360.5,1050.7) {N: nullable};
\node[lg] (lg17) at (1360.5,1069.2) {NN: not nullable};

\end{tikzpicture}
\end{document}
